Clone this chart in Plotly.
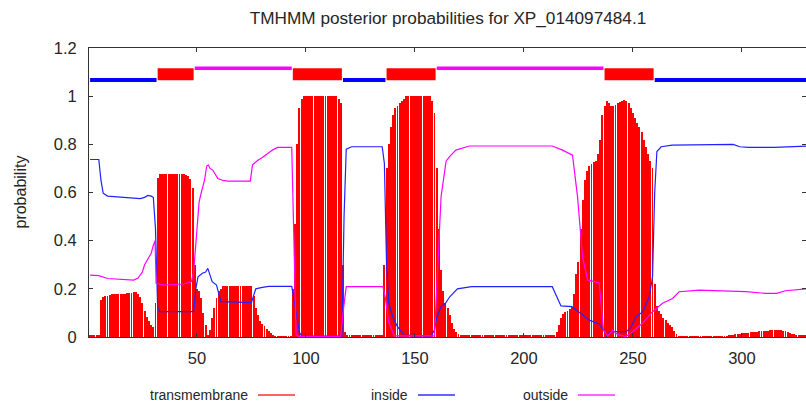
import plotly.graph_objects as go

# ---------------- data ----------------
residues = list(range(1, 331))

tm_prob = [
    0.005, 0.006, 0.007, 0.008, 0.010,                                   # 1-5
    0.155, 0.165, 0.170, 0.172, 0.175, 0.178, 0.180, 0.180, 0.180, 0.180,  # 6-15
    0.180, 0.180, 0.181, 0.182, 0.183, 0.185, 0.186, 0.180, 0.165, 0.140,  # 16-25
    0.110, 0.085, 0.065, 0.050, 0.040, 0.140, 0.660,                      # 26-32
    0.675, 0.675, 0.675, 0.675, 0.675, 0.675, 0.675, 0.675, 0.675, 0.675,  # 33-42
    0.675, 0.675, 0.672, 0.668, 0.655, 0.620, 0.300, 0.200, 0.190, 0.160,  # 43-52
    0.100, 0.050, 0.010, 0.030, 0.080, 0.120, 0.160, 0.190, 0.200,         # 53-61
    0.210, 0.210, 0.210, 0.210, 0.210, 0.210, 0.210, 0.210, 0.210, 0.210,  # 62-71
    0.210, 0.210, 0.210, 0.210, 0.170, 0.120, 0.090, 0.065, 0.055, 0.045,  # 72-81
    0.035, 0.025, 0.015, 0.008, 0.004, 0.004, 0.004, 0.004, 0.004, 0.004,  # 82-91
    0.004, 0.004, 0.200, 0.470, 0.800, 0.950, 0.990,                      # 92-98
    1.000, 1.000, 1.000, 1.000, 1.000, 1.000, 1.000, 1.000, 1.000, 1.000,  # 99-108
    1.000, 1.000, 1.000, 1.000, 1.000, 1.000, 0.990, 0.970, 0.300, 0.020,  # 109-118
    0.008, 0.008, 0.008, 0.008, 0.008, 0.008, 0.008, 0.008, 0.008, 0.008,  # 119-128
    0.008, 0.008, 0.008, 0.008, 0.008, 0.008, 0.008,                      # 129-135
    0.300, 0.700, 0.800, 0.870, 0.920, 0.950, 0.960, 0.970, 0.980, 0.990,  # 136-145
    1.000, 1.000, 1.000, 1.000, 1.000, 1.000, 1.000, 1.000, 1.000, 1.000,  # 146-155
    1.000, 1.000, 0.980, 0.930, 0.700, 0.450, 0.280, 0.190, 0.140, 0.120,  # 156-165
    0.090, 0.060, 0.035, 0.020, 0.012,                                    # 166-170
    0.006, 0.006, 0.006, 0.006, 0.006, 0.006, 0.006, 0.006, 0.006, 0.006,  # 171-180
    0.006, 0.006, 0.006, 0.006, 0.006, 0.006, 0.006, 0.006, 0.006, 0.006,  # 181-190
    0.006, 0.006, 0.006, 0.006, 0.006, 0.006, 0.006, 0.006, 0.006, 0.006,  # 191-200
    0.006, 0.006, 0.006, 0.006, 0.006, 0.006, 0.006, 0.006, 0.006, 0.006,  # 201-210
    0.006, 0.006, 0.006,                                                  # 211-213
    0.010, 0.020, 0.050, 0.080, 0.095, 0.105, 0.110, 0.118, 0.125, 0.180,  # 214-223
    0.260, 0.310, 0.450, 0.570, 0.650, 0.690, 0.710, 0.720, 0.725, 0.730,  # 224-233
    0.760, 0.820, 0.920, 0.960, 0.980, 0.970, 0.960, 0.960, 0.965, 0.970,  # 234-243
    0.975, 0.980, 0.983, 0.980, 0.970, 0.950, 0.930, 0.910, 0.890, 0.870,  # 244-253
    0.850, 0.820, 0.790, 0.760, 0.730, 0.700, 0.220, 0.130, 0.110, 0.095,  # 254-263
    0.080, 0.070, 0.060, 0.050, 0.043, 0.025, 0.012,                      # 264-270
    0.004, 0.004, 0.004, 0.004, 0.004, 0.004, 0.004, 0.004, 0.004, 0.004,  # 271-280
    0.004, 0.004, 0.004, 0.004, 0.004, 0.004, 0.004, 0.004, 0.004, 0.004,  # 281-290
    0.004, 0.004, 0.004,                                                  # 291-293
    0.006, 0.008, 0.010, 0.011, 0.012, 0.013, 0.015, 0.016, 0.017, 0.018,  # 294-303
    0.019, 0.020, 0.021, 0.022, 0.023, 0.024, 0.025, 0.026, 0.027, 0.028,  # 304-313
    0.029, 0.029, 0.029, 0.029, 0.028, 0.026, 0.023, 0.020, 0.017, 0.014,  # 314-323
    0.012, 0.010, 0.008, 0.007, 0.006, 0.005, 0.005,                      # 324-330
]

inside_x = [1, 5, 6, 7, 9, 15, 20, 24, 26, 27.5, 29, 30, 31, 32, 33, 48.5, 49.5, 50.5,
            52.5, 54, 55, 56, 57, 59, 60, 61, 75, 76, 77, 80, 83, 93.5, 95, 96, 97, 98,
            116.5, 117.5, 118.5, 121, 135, 136, 137, 138, 140, 142, 145, 157.5, 159,
            160, 162, 164, 166, 169.5, 176, 213, 215, 217, 222, 225, 230, 234.5, 236.5,
            238, 239.5, 247, 249, 251.5, 254.5, 257.5, 259, 260, 261, 263, 268, 296,
            299, 303, 315, 330]
inside_y = [0.737, 0.737, 0.650, 0.597, 0.585, 0.580, 0.576, 0.575, 0.580, 0.588, 0.585,
            0.580, 0.450, 0.120, 0.105, 0.105, 0.200, 0.250, 0.265, 0.270, 0.285, 0.255,
            0.230, 0.216, 0.180, 0.147, 0.143, 0.170, 0.200, 0.206, 0.210, 0.210, 0.120,
            0.060, 0.020, 0.004, 0.004, 0.500, 0.780, 0.790, 0.790, 0.720, 0.300, 0.140,
            0.080, 0.043, 0.008, 0.004, 0.030, 0.080, 0.126, 0.140, 0.167, 0.200, 0.209,
            0.209, 0.170, 0.129, 0.126, 0.105, 0.070, 0.054, 0.030, 0.004, 0.022, 0.022,
            0.040, 0.084, 0.105, 0.167, 0.250, 0.600, 0.770, 0.790, 0.797, 0.800, 0.790,
            0.787, 0.787, 0.793]

outside_x = [1, 5, 9, 20, 21, 23, 25, 26, 28, 29, 30, 30.8, 31.3, 35, 44, 47.5, 48.5,
             49.5, 51, 52, 53.5, 54.5, 55.3, 56, 57.3, 59.6, 62, 64, 74.5, 75.5, 78, 80,
             82.5, 85, 87, 93.5, 94.5, 95.5, 96.5, 116, 117, 118.5, 135.3, 136.5, 138,
             140.5, 159, 160.5, 162, 164.3, 166, 168.8, 175, 213, 217.7, 222.3, 224.6,
             226.9, 229.2, 234.5, 235.5, 236.5, 238.4, 240.7, 243, 246.8, 249.8, 254.4,
             259, 263.6, 268.2, 271.2, 280.4, 301.8, 311, 316, 320, 330]
outside_y = [0.257, 0.255, 0.243, 0.239, 0.236, 0.245, 0.270, 0.300, 0.330, 0.347, 0.380,
             0.400, 0.223, 0.216, 0.220, 0.230, 0.270, 0.400, 0.560, 0.600, 0.651, 0.710,
             0.714, 0.700, 0.693, 0.658, 0.650, 0.647, 0.647, 0.715, 0.734, 0.745, 0.762,
             0.778, 0.787, 0.787, 0.400, 0.010, 0.003, 0.003, 0.100, 0.209, 0.209, 0.160,
             0.060, 0.005, 0.005, 0.306, 0.582, 0.730, 0.750, 0.776, 0.793, 0.793, 0.776,
             0.755, 0.582, 0.333, 0.237, 0.225, 0.120, 0.030, 0.004, 0.029, 0.010, 0.002,
             0.022, 0.057, 0.105, 0.140, 0.160, 0.188, 0.195, 0.188, 0.181, 0.181, 0.192,
             0.200]

# predicted topology (start, end) per class
seg_inside = [(1, 31), (117, 136), (260, 330)]
seg_tm = [(32, 48), (94, 116), (137, 159), (237, 259)]
seg_outside = [(49, 93), (160, 236)]

title_text = "TMHMM posterior probabilities for XP_014097484.1"
legend_names = ["transmembrane", "inside", "outside"]

# ---------------- styling ----------------
FONT = "Liberation Sans"
TXT = "#262626"
RED = "#ff0000"
BLUE = "#0000ff"
MAG = "#ff00ff"


def seg_xy(segs, level):
    xs, ys = [], []
    for s, e in segs:
        xs += [s, e + 0.5, None]
        ys += [level, level, None]
    return xs, ys


fig = go.Figure()

fig.add_trace(go.Bar(x=residues, y=tm_prob, width=0.42,
                     marker=dict(color=RED, line=dict(width=0)),
                     showlegend=False, hoverinfo="skip"))
fig.add_trace(go.Scatter(x=inside_x, y=inside_y, mode="lines",
                         line=dict(color="#2222ff", width=1.2), showlegend=False))
fig.add_trace(go.Scatter(x=outside_x, y=outside_y, mode="lines",
                         line=dict(color=MAG, width=1.2), showlegend=False))

xi, yi = seg_xy(seg_inside, 1.067)
fig.add_trace(go.Scatter(x=xi, y=yi, mode="lines", line=dict(color=BLUE, width=4),
                         showlegend=False))
xo, yo = seg_xy(seg_outside, 1.116)
fig.add_trace(go.Scatter(x=xo, y=yo, mode="lines", line=dict(color=MAG, width=3.5),
                         showlegend=False))
xt, yt = seg_xy(seg_tm, 1.0915)
fig.add_trace(go.Scatter(x=xt, y=yt, mode="lines", line=dict(color=RED, width=12),
                         showlegend=False))

W, H = 806, 403
L, R, T, B = 89, 0, 48, 66
pw, ph = W - L - R, H - T - B


def px_x(px):
    return (px - L) / pw


def px_y(py):
    return (H - B - py) / ph


annotations = [
    dict(text="probability", textangle=-90, x=px_x(20), y=0.5, xref="paper", yref="paper",
         xanchor="center", yanchor="middle", showarrow=False,
         font=dict(family=FONT, size=16, color=TXT)),
]
shapes = []
leg_text_right = [250, 410, 570]
leg_line = [(258, 295), (418, 455), (578, 615)]
leg_colors = ["#ff3030", "#3030ff", "#ff30ff"]
for name, xr, (a, b), c in zip(legend_names, leg_text_right, leg_line, leg_colors):
    annotations.append(dict(text=name, x=px_x(xr), y=px_y(395), xref="paper", yref="paper",
                            xanchor="right", yanchor="middle", showarrow=False,
                            font=dict(family=FONT, size=14, color=TXT)))
    shapes.append(dict(type="line", xref="paper", yref="paper", x0=px_x(a), x1=px_x(b),
                       y0=px_y(395), y1=px_y(395), line=dict(color=c, width=1.5)))

fig.update_layout(
    width=W, height=H,
    margin=dict(l=L, r=R, t=T, b=B),
    paper_bgcolor="white", plot_bgcolor="white",
    bargap=0,
    title=dict(text=title_text, x=px_x(448), xanchor="center", xref="paper",
               y=1 - 18 / H, yref="container", yanchor="middle",
               font=dict(family=FONT, size=17.2, color=TXT)),
    annotations=annotations,
    shapes=shapes,
    showlegend=False,
)

fig.update_xaxes(range=[0.5, 0.5 + pw / 2.18], tickvals=[50, 100, 150, 200, 250, 300],
                 ticks="inside", ticklen=4, tickcolor="#333", showline=True,
                 linecolor="#333", linewidth=1, mirror="ticks", showgrid=False,
                 zeroline=False, tickfont=dict(family=FONT, size=16.5, color=TXT),
                 ticklabelstandoff=6)
fig.update_yaxes(range=[0, 1.2], tickvals=[0, 0.2, 0.4, 0.6, 0.8, 1.0, 1.2],
                 ticks="inside", ticklen=4, tickcolor="#333", showline=True,
                 linecolor="#333", linewidth=1, mirror="ticks", showgrid=False,
                 zeroline=False, tickfont=dict(family=FONT, size=16.5, color=TXT),
                 ticklabelstandoff=8)

fig.write_html("out.html")
